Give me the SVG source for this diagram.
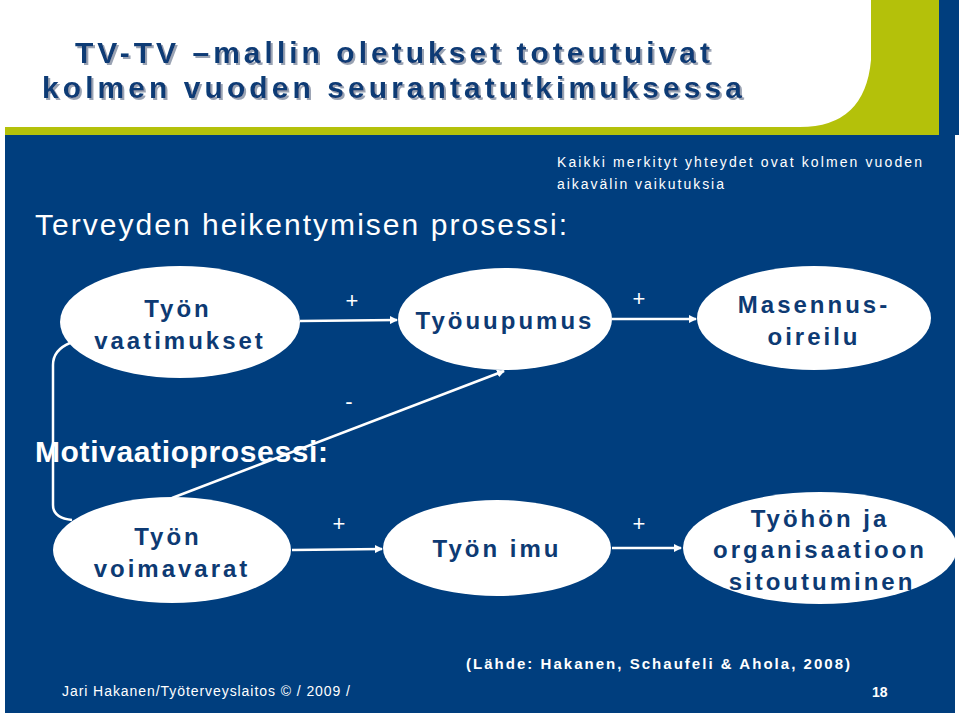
<svg xmlns="http://www.w3.org/2000/svg" width="960" height="716" viewBox="0 0 960 716">
<defs>
<style>
.node ellipse{fill:#fff}
.nt{font-family:"Liberation Sans",Arial,sans-serif;font-weight:bold;font-size:24px;fill:#0d3a73;text-anchor:middle;letter-spacing:3px}
.w{font-family:"Liberation Sans",Arial,sans-serif;fill:#fff}
.t{font-family:"Liberation Sans",Arial,sans-serif;font-weight:bold;font-size:30px;fill:#0a3a75;filter:url(#sh)}
.conn line,.conn path{stroke:#fff;stroke-width:2.5;fill:none}
</style>
<filter id="sh" x="-5%" y="-30%" width="110%" height="160%"><feDropShadow dx="2" dy="2" stdDeviation="0.3" flood-color="#9aa3b3"/></filter>
<marker id="ah" markerWidth="8" markerHeight="8" refX="7" refY="4" orient="auto" markerUnits="userSpaceOnUse"><path d="M0,0 L8,4 L0,8 Z" fill="#fff"/></marker>
</defs>
<rect width="960" height="716" fill="#fff"/>
<rect x="5" y="127" width="950" height="586" fill="#003e7e"/>
<rect x="939" y="0" width="20" height="135" fill="#003e7e"/>
<path d="M5,127 L800,127 Q865,127 871,60 L871,0 L939,0 L939,135 L5,135 Z" fill="#b4c10a"/>
<g id="title">
<text class="t" x="75" y="63" textLength="635" lengthAdjust="spacing">TV-TV –mallin oletukset toteutuivat</text>
<text class="t" x="42" y="98" textLength="700" lengthAdjust="spacing">kolmen vuoden seurantatutkimuksessa</text>
</g>
<text class="w" x="557" y="167" font-size="14" textLength="365" lengthAdjust="spacing">Kaikki merkityt yhteydet ovat kolmen vuoden</text>
<text class="w" x="557" y="189" font-size="14" textLength="167" lengthAdjust="spacing">aikavälin vaikutuksia</text>
<text class="w" x="35" y="235" font-size="30" textLength="532" lengthAdjust="spacing">Terveyden heikentymisen prosessi:</text>
<g class="conn" id="connectors">
<path d="M70,343 Q53,350 53,365 L53,505 Q53,518 72,520"/>
<line x1="300" y1="321" x2="397" y2="320" marker-end="url(#ah)"/>
<line x1="612" y1="319" x2="696" y2="319" marker-end="url(#ah)"/>
<line x1="292" y1="550" x2="382" y2="549" marker-end="url(#ah)"/>
<line x1="612" y1="548" x2="681" y2="548" marker-end="url(#ah)"/>
<line x1="172" y1="498" x2="504" y2="371" marker-end="url(#ah)"/>
</g>
<text class="w" x="35" y="462" font-size="30" font-weight="bold" textLength="293" lengthAdjust="spacing">Motivaatioprosessi:</text>
<g class="w" font-size="22" text-anchor="middle">
<text x="352" y="308">+</text>
<text x="639" y="306">+</text>
<text x="349" y="409">-</text>
<text x="339" y="531">+</text>
<text x="639" y="531">+</text>
</g>
<g class="node" id="vaatimukset"><ellipse cx="180" cy="322" rx="120" ry="56"/><text class="nt" x="178" y="317">Työn</text><text class="nt" x="180" y="349">vaatimukset</text></g>
<g class="node" id="tyouupumus"><ellipse cx="505" cy="319" rx="107" ry="51"/><text class="nt" x="505" y="329">Työuupumus</text></g>
<g class="node" id="masennus"><ellipse cx="814" cy="318" rx="117" ry="52"/><text class="nt" x="814" y="313">Masennus-</text><text class="nt" x="814" y="345">oireilu</text></g>
<g class="node" id="voimavarat"><ellipse cx="172" cy="550" rx="119" ry="53"/><text class="nt" x="168" y="545">Työn</text><text class="nt" x="172" y="577">voimavarat</text></g>
<g class="node" id="imu"><ellipse cx="497" cy="548" rx="114" ry="48"/><text class="nt" x="497" y="557">Työn imu</text></g>
<g class="node" id="sitoutuminen"><ellipse cx="820" cy="548" rx="137" ry="56"/><text class="nt" x="820" y="527">Työhön ja</text><text class="nt" x="820" y="558">organisaatioon</text><text class="nt" x="822" y="590">sitoutuminen</text></g>
<text class="w" x="466" y="669" font-size="15" font-weight="bold" textLength="384" lengthAdjust="spacing">(Lähde: Hakanen, Schaufeli &amp; Ahola, 2008)</text>
<text class="w" x="62" y="696" font-size="14" textLength="288" lengthAdjust="spacing">Jari Hakanen/Työterveyslaitos © / 2009 /</text>
<text class="w" x="872" y="697" font-size="14" font-weight="bold">18</text>
</svg>
